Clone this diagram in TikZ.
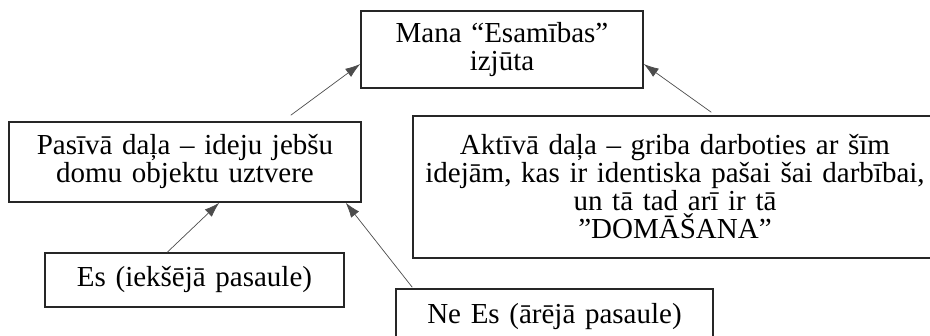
\documentclass[tikz,border=0pt]{standalone}
\usepackage{fontspec}
\setmainfont{Liberation Serif}
\usepackage{tikz}
\usetikzlibrary{arrows.meta, positioning, calc}
\tikzstyle{box} = [rectangle, draw=black!85, line width=1.5pt, align=center, inner sep=0pt, font=\fontsize{29}{28}\selectfont]
\tikzstyle{arrow} = [draw=black!70, line width=0.7pt, -{Latex[length=15pt,width=10pt]}]

\begin{document}
\begin{tikzpicture}[x=1pt, y=-1pt]
    \useasboundingbox (0,0) rectangle (930,336);
    \clip (0,0) rectangle (930,336);
    \node (mana) [box, text width=282pt, minimum height=77pt] at (502,49.5) {Mana “Esamības”\\izjūta};
    \node (passive) [box, text width=352pt, minimum height=80pt] at (185,162) {Pasīvā daļa – ideju jebšu\\domu objektu uztvere};
    \node (active) [box, text width=524pt, minimum height=142pt] at (675,187) {Aktīvā daļa – griba darboties ar šīm\\idejām, kas ir identiska pašai šai darbībai,\\un tā tad arī ir tā\\”DOMĀŠANA”};
    \node (es) [box, text width=299pt, minimum height=54pt] at (194.5,280) {Es (iekšējā pasaule)};
    \node (nees) [box, text width=317pt, minimum height=56pt] at (554.5,317) {Ne Es (ārējā pasaule)};
    
    \draw [arrow] ([xshift=-71pt, yshift=6pt]passive.north east) -- ([yshift=-14.5pt]mana.west);
    \draw [arrow] ([xshift=299pt, yshift=3pt]active.north west) -- ([yshift=-14.5pt]mana.east);
    \draw [arrow] ([xshift=123pt]es.north west) -- ([xshift=211pt]passive.south west);
    \draw [arrow] ([xshift=17pt, yshift=1pt]nees.north west) -- ([xshift=-16pt]passive.south east);
\end{tikzpicture}
\end{document}
